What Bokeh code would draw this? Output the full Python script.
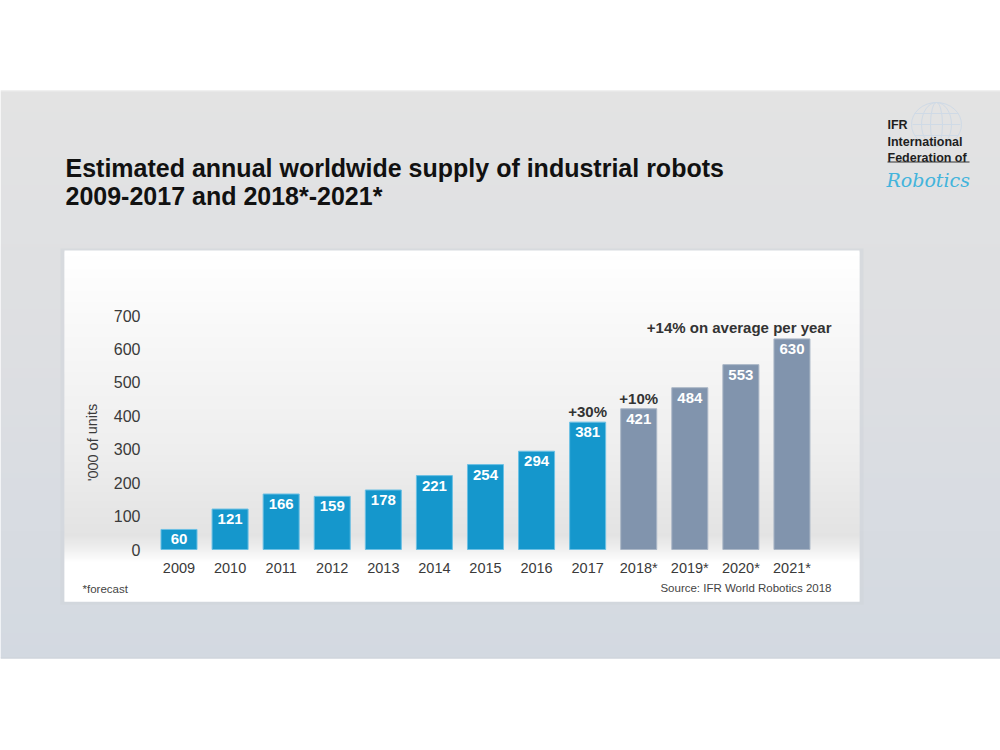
from bokeh.plotting import figure
from bokeh.models import Range1d, ColumnDataSource
from bokeh.core.properties import value
from bokeh.embed import file_html
from bokeh.resources import INLINE

# ---- data -------------------------------------------------------------
years = ["2009", "2010", "2011", "2012", "2013", "2014", "2015", "2016",
         "2017", "2018*", "2019*", "2020*", "2021*"]
units = [60, 121, 166, 159, 178, 221, 254, 294, 381, 421, 484, 553, 630]
is_forecast = [False] * 9 + [True] * 4
y_ticks = [0, 100, 200, 300, 400, 500, 600, 700]
growth_years = ["2017", "2018*"]
growth_texts = ["+30%", "+10%"]
avg_note = "+14% on average per year"
title_lines = ["Estimated annual worldwide supply of industrial robots",
               "2009-2017 and 2018*-2021*"]
y_label = "'000 of units"
footnote = "*forecast"
source_note = "Source: IFR World Robotics 2018"
logo_lines = ["IFR", "International", "Federation of"]
logo_script = "Robotics"

# ---- geometry ---------------------------------------------------------
W, H = 1000, 750
CAT_PX = 51.08          # pixels between neighbouring bars
FIRST_PX = 178.5        # centre of the first bar
ZERO_PX = 549           # baseline of the bars, from the top
UNIT_PX = 234 / 700     # pixels per thousand units

FONT = value("Liberation Sans")
BLUE = "#1597cc"
BLUE_EDGE = "#6cc0e4"
SLATE = "#8194ad"
SLATE_EDGE = "#aab6c6"

p = figure(width=W, height=H,
           x_range=Range1d(-FIRST_PX / CAT_PX, (W - FIRST_PX) / CAT_PX),
           y_range=Range1d(-(H - ZERO_PX) / UNIT_PX, ZERO_PX / UNIT_PX),
           x_axis_type=None, y_axis_type=None,
           toolbar_location=None, output_backend="svg",
           min_border=0, outline_line_color=None,
           background_fill_color="white", border_fill_color="white")
p.extra_x_ranges = {"px": Range1d(0, W)}
p.extra_y_ranges = {"px": Range1d(H, 0)}
PX = dict(x_range_name="px", y_range_name="px")


def hex_to_rgb(h):
    h = h.lstrip("#")
    return tuple(int(h[i:i + 2], 16) for i in (0, 2, 4))


def blend(stops, t):
    for (t0, c0), (t1, c1) in zip(stops, stops[1:]):
        if t0 <= t <= t1:
            f = 0 if t1 == t0 else (t - t0) / (t1 - t0)
            a, b = hex_to_rgb(c0), hex_to_rgb(c1)
            return "#%02x%02x%02x" % tuple(round(a[k] + (b[k] - a[k]) * f) for k in range(3))
    return stops[-1][1]


def vertical_gradient(left, right, top, bottom, stops, step=2):
    # stacked strips, each overlapping the next one to hide seams
    tops, bots, cols = [], [], []
    y = top
    while y < bottom:
        y2 = min(y + step, bottom)
        tops.append(y)
        bots.append(min(y2 + 1, bottom))
        cols.append(blend(stops, (y + y2) / 2))
        y = y2
    p.quad(left=left, right=right, top=tops, bottom=bots,
           fill_color=cols, line_color=None, **PX)


# slide background band
vertical_gradient(0, W, 90, 658, [(90, "#e3e3e3"), (400, "#dcdee2"), (658, "#d3d9e1")])
p.segment(x0=0, x1=W, y0=90.5, y1=90.5, line_color="#eeeeee", line_width=1, **PX)
p.segment(x0=0, x1=W, y0=657.5, y1=657.5, line_color="#cdd2d9", line_width=1, **PX)

# chart panel with its soft shading
p.quad(left=60, right=863, top=248, bottom=604, fill_color="#cfd4da",
       fill_alpha=0.5, line_color=None, **PX)
vertical_gradient(64, 859, 250, 601,
                  [(250, "#ffffff"), (330, "#f8f8f8"), (450, "#eeeeee"),
                   (535, "#e3e3e3"), (548, "#efefef"), (562, "#ffffff"),
                   (601, "#ffffff")])

# title
p.text(x=[65, 65], y=[167, 195], text=title_lines, text_font=FONT,
       text_font_size="25px", text_font_style="bold", text_color="#111111",
       text_baseline="alphabetic", **PX)

# logo: faint globe outline, wordmark and script line
gc = "#cfdae6"
p.ellipse(x=936, y=124, width=50, height=44, fill_color=None, line_color=gc, line_width=1, **PX)
p.ellipse(x=936, y=124, width=30, height=44, fill_color=None, line_color=gc, line_width=1, **PX)
p.ellipse(x=936, y=124, width=12, height=44, fill_color=None, line_color=gc, line_width=1, **PX)
p.segment(x0=[914, 912, 914], x1=[958, 960, 958], y0=[113, 124, 135], y1=[113, 124, 135],
          line_color=gc, line_width=1, **PX)
p.text(x=[887] * 3, y=[124, 141, 157], text=logo_lines, text_font=FONT,
       text_font_size="12.5px", text_font_style="bold", text_color="#1e1e1e",
       text_baseline="alphabetic", **PX)
p.segment(x0=887, x1=969, y0=161.5, y1=161.5, line_color="#333333", line_width=1, **PX)
p.text(x=[886], y=[179], text=[logo_script], text_font=value("DejaVu Serif"),
       text_font_size="19px", text_font_style="italic", text_color="#43b4dc",
       text_baseline="alphabetic", **PX)

# bars
idx = list(range(len(years)))
src = ColumnDataSource(dict(
    x=idx, top=units, label=[str(u) for u in units],
    fill=[SLATE if f else BLUE for f in is_forecast],
    edge=[SLATE_EDGE if f else BLUE_EDGE for f in is_forecast],
))
p.vbar(x="x", top="top", bottom=0, width=0.705, fill_color="fill",
       line_color="edge", line_width=1, source=src)
p.text(x="x", y="top", text="label", source=src, text_font=FONT,
       text_font_size="15px", text_font_style="bold", text_color="white",
       text_align="center", text_baseline="top", y_offset=5)

# growth notes above bars
g_idx = [years.index(y) for y in growth_years]
p.text(x=g_idx, y=[units[i] for i in g_idx], text=growth_texts, text_font=FONT,
       text_font_size="15px", text_font_style="bold", text_color="#333333",
       text_align="center", text_baseline="bottom", y_offset=-2)
p.text(x=[831], y=[327], text=[avg_note], text_font=FONT, text_font_size="15px",
       text_font_style="bold", text_color="#333333", text_align="right",
       text_baseline="alphabetic", **PX)

# value axis labels
p.text(x=[140] * len(y_ticks), y=y_ticks, text=[str(t) for t in y_ticks],
       text_font=FONT, text_font_size="16px", text_color="#3a3a3a",
       text_align="right", text_baseline="middle", x_range_name="px")
p.text(x=[92], y=[442], text=[y_label], angle=1.5708, text_font=FONT,
       text_font_size="14.5px", text_color="#3a3a3a", text_align="center",
       text_baseline="middle", **PX)

# category labels
p.text(x=idx, y=[567] * len(years), text=years, text_font=FONT,
       text_font_size="14.5px", text_color="#3a3a3a", text_align="center",
       text_baseline="middle", y_range_name="px")

# footnotes
p.text(x=[82], y=[588], text=[footnote], text_font=FONT, text_font_size="11.5px",
       text_color="#444444", text_align="left", text_baseline="middle", **PX)
p.text(x=[831], y=[587], text=[source_note], text_font=FONT, text_font_size="11.5px",
       text_color="#444444", text_align="right", text_baseline="middle", **PX)

open("out.html", "w").write(file_html(p, INLINE))
